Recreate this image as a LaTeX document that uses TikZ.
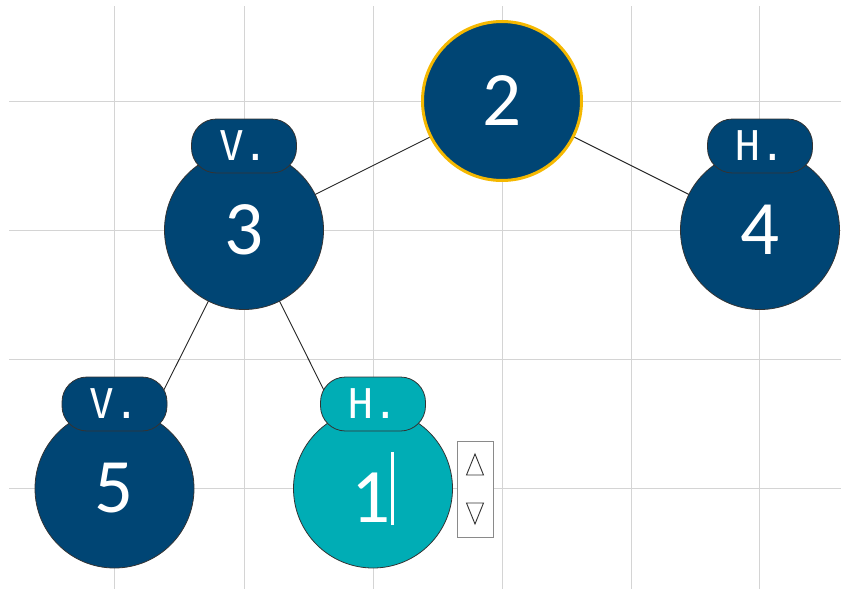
\documentclass[tikz,border=0pt]{standalone}
\usepackage{fontspec}
\setmainfont{Carlito}
\newfontfamily\labelmono{DejaVu Sans Mono}
\definecolor{nodeblue}{HTML}{004574}
\definecolor{nodeteal}{HTML}{00ADB5}
\definecolor{selgold}{HTML}{F5B800}
\definecolor{gridgray}{HTML}{D4D4D4}
\definecolor{spingray}{HTML}{8A8A8A}
\tikzset{
  gridline/.style={draw=gridgray, line width=1.0},
  edge/.style={draw=black!85, line width=0.9},
  treenode/.style={circle, minimum size=159, inner sep=0, fill=nodeblue, draw=black!80, line width=0.8,
    text=white, font=\fontsize{77}{77}\selectfont},
  selnode/.style={treenode, draw=selgold, line width=3},
  activenode/.style={treenode, fill=nodeteal},
  tag/.style={rectangle, rounded corners=25, minimum width=105, minimum height=54, inner sep=0,
    fill=nodeblue, draw=black!80, line width=0.8, text=white, font=\labelmono\fontsize{41}{41}\selectfont},
  activetag/.style={tag, fill=nodeteal},
  spinbox/.style={rectangle, minimum width=36, minimum height=96, inner sep=0, fill=white, draw=spingray, line width=0.9},
  tri/.style={draw=black!80, line width=0.9, line join=miter}
}
\begin{document}
\begin{tikzpicture}[x=1pt,y=-1pt]
\useasboundingbox (0,0) rectangle (841,589);
% grid
\foreach \gx in {114.5,244,373,502,631,759.5} \draw[gridline] (\gx,6) -- (\gx,589);
\foreach \gy in {101,230,359,488.5} \draw[gridline] (9,\gy) -- (841,\gy);
% node coordinates
\coordinate (c2) at (502,101);
\coordinate (c3) at (244,230);
\coordinate (c4) at (760,230);
\coordinate (c5) at (114.5,488.5);
\coordinate (c1) at (373,488.5);
% edges
\draw[edge] (c2) -- (c3);
\draw[edge] (c2) -- (c4);
\draw[edge] (c3) -- (c5);
\draw[edge] (c3) -- (c1);
% nodes
\node[selnode] (n2) at (c2) {2};
\node[treenode] (n3) at (c3) {3};
\node[treenode] (n4) at (c4) {4};
\node[treenode] (n5) at (c5) {5};
\node[activenode] (n1) at (c1) {1\rule[-0.04em]{0.045em}{0.95em}};
% tags
\node[tag] (l3) at (244,146) {V.};
\node[tag] (l4) at (760,146) {H.};
\node[tag] (l5) at (114.5,404) {V.};
\node[activetag] (l1) at (373,404) {H.};
% spinner
\node[spinbox] (sp) at (475,489) {};
\draw[tri] ([xshift=-8.5,yshift=-14] sp.center) -- ([xshift=8.5,yshift=-14] sp.center) -- ([yshift=-35] sp.center) -- cycle;
\draw[tri] ([xshift=-8.5,yshift=14] sp.center) -- ([xshift=8.5,yshift=14] sp.center) -- ([yshift=35] sp.center) -- cycle;
\end{tikzpicture}
\end{document}
